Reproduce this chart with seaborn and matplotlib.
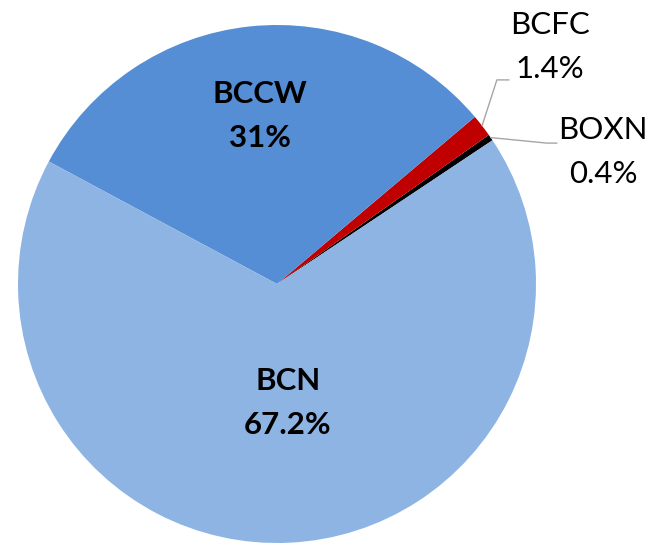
import matplotlib
matplotlib.use("Agg")
import matplotlib.pyplot as plt
import numpy as np
import seaborn as sns

sns.set_theme(style="white")
plt.rcParams["font.family"] = ["Lato", "DejaVu Sans"]

# ----------------------------
#  Datos (porcentajes por tipo de vagón)
# ----------------------------
labels = ["BOXN", "BCFC", "BCCW", "BCN"]
shares = [0.4, 1.4, 31.0, 67.2]
share_text = ["0.4%", "1.4%", "31%", "67.2%"]
colors = ["#000000", "#C00000", "#558ED5", "#8EB4E3"]

# figura 649x545 px
fig = plt.figure(figsize=(6.49, 5.45), dpi=100)
W, H = 649, 545
cx, cy, r = 277, 284, 259  # centro y radio del pastel en px
ax = fig.add_axes([(cx - r) / W, (H - cy - r) / H, 2 * r / W, 2 * r / H])

wedges, _ = ax.pie(shares, colors=colors, startangle=33.7, counterclock=True,
                   radius=1.0, wedgeprops=dict(linewidth=0))
ax.set_xlim(-1, 1)
ax.set_ylim(-1, 1)
ax.set_aspect("equal")
ax.axis("off")

FS = 22.5
LS = 1.7

# etiquetas dentro (negrita)
inside = {"BCCW": (-0.066, 0.649), "BCN": (0.042, -0.458)}
for name, (tx, ty) in inside.items():
    i = labels.index(name)
    ax.text(tx, ty, f"{name}\n{share_text[i]}", ha="center", va="center",
            fontsize=FS, fontweight="bold", color="black", linespacing=LS)

# etiquetas fuera con línea guía
outside = {
    "BCFC": dict(text=(1.054, 0.915), elbow=(0.849, 0.788), end=(0.896, 0.788)),
    "BOXN": dict(text=(1.259, 0.508), elbow=(1.042, 0.544), end=(1.081, 0.544)),
}
for name, opt in outside.items():
    i = labels.index(name)
    w = wedges[i]
    mid = np.deg2rad((w.theta1 + w.theta2) / 2)
    x0, y0 = np.cos(mid), np.sin(mid)
    xs = [x0, opt["elbow"][0], opt["end"][0]]
    ys = [y0, opt["elbow"][1], opt["end"][1]]
    ax.plot(xs, ys, color="#A6A6A6", lw=1.0, clip_on=False)
    ax.text(*opt["text"], f"{name}\n{share_text[i]}", ha="center", va="center",
            fontsize=FS, color="black", linespacing=LS)

fig.savefig("out.png", dpi=100)
